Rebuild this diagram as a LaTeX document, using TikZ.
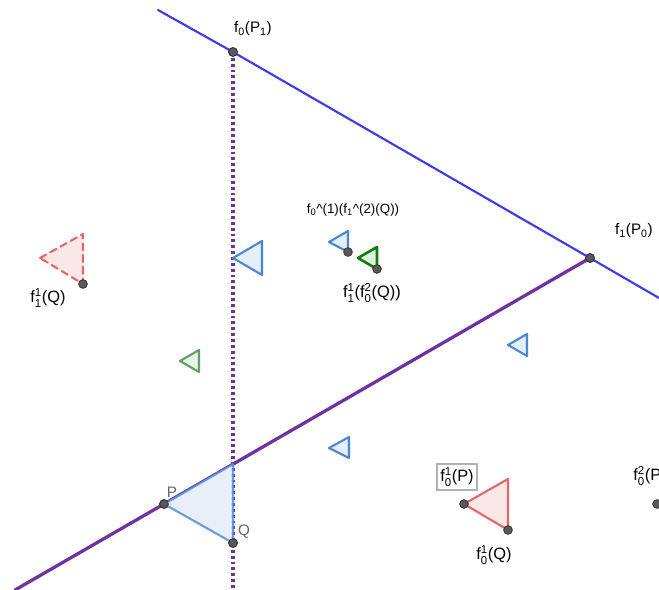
\documentclass[tikz,border=0pt]{standalone}
\usepackage{amsmath}
\usepackage{fontspec}
\setmainfont{Liberation Sans}
\usetikzlibrary{positioning}
\definecolor{lineblue}{RGB}{58,58,240}
\definecolor{linepurple}{RGB}{112,50,160}
\definecolor{triblue}{RGB}{74,134,214}
\definecolor{trired}{RGB}{226,104,104}
\definecolor{trigreen}{RGB}{96,160,100}
\definecolor{darkgreen}{RGB}{10,128,10}
\newcommand{\idx}[2]{$^{\text{#1}}_{\text{#2}}$}
\newcommand{\lo}[1]{$_{\text{#1}}$}

\begin{document}
\begin{tikzpicture}[x=0.03cm,y=-0.03cm,font=\fontsize{13}{15}\selectfont,line cap=round,
  gpoint/.style={circle,fill=black!65,draw=black!80,line width=0.7pt,inner sep=0pt,minimum size=7.4pt},
  bluetri/.style={draw=triblue,fill=triblue!14,line width=1.8pt,line join=round},
  redtri/.style={draw=trired,fill=trired!16,line width=1.8pt,line join=round},
  greentri/.style={draw=trigreen,fill=trigreen!14,line width=1.8pt,line join=round},
  lbl/.style={inner sep=1pt},
  stk/.style={inner sep=1pt,font=\fontsize{14}{16}\selectfont}]
\useasboundingbox (0,0) rectangle (659,590);
\fill[white] (0,0) rectangle (659,590);
% points
\coordinate (bl) at (158,10);
\coordinate (br) at (659,298);
\coordinate (pl) at (15,590);
\coordinate (vb) at (233,592);
\coordinate (C) at (233,464);
\node[gpoint] (f0P1) at (233,52) {};
\node[gpoint] (f1P0) at (590,258) {};
\node[gpoint] (P) at (164,504) {};
\node[gpoint] (Q) at (233,543) {};
\begin{scope}
\clip (0,0) rectangle (659,590);
\draw[lineblue,line width=1.8pt] (bl) -- (f0P1.center) -- (f1P0.center) -- (br);
\draw[linepurple,line width=2.8pt] (pl) -- (P.center) -- (f1P0.center);
\draw[linepurple,line width=2.6pt,line cap=butt,dash pattern=on 2.4pt off 2.6pt] (f0P1.center) -- (vb);
% triangles
\draw[bluetri,draw opacity=0.8,fill opacity=0.9] (P.center) -- (C) -- (Q.center) -- cycle;
\draw[redtri,dash pattern=on 6pt off 4pt] (40,258) -- (83,234) -- (83,284) -- cycle;
\draw[redtri] (464,504) -- (508,479) -- (508,530) -- cycle;
\draw[bluetri] (233,258) -- (262,241) -- (262,275) -- cycle;
\draw[greentri] (180,361) -- (199,350) -- (199,372) -- cycle;
\draw[bluetri] (329,242) -- (348,231) -- (348,252) -- cycle;
\draw[darkgreen,fill=darkgreen!12,line width=2.2pt,line join=round] (358,258) -- (377,247) -- (377,269) -- cycle;
\draw[bluetri] (508,345) -- (527,334) -- (527,356) -- cycle;
\draw[bluetri] (329,448) -- (349,437) -- (349,458) -- cycle;
\end{scope}
\node[gpoint] at (f0P1) {};
\node[gpoint] at (f1P0) {};
\node[gpoint] at (P) {};
\node[gpoint] at (Q) {};
\node[gpoint] (f1Q) at (83,284) {};
\node[gpoint] (f0f1Q) at (348,252) {};
\node[gpoint] (f1f0Q) at (377,269) {};
\node[gpoint] (f0P) at (464,504) {};
\node[gpoint] (f0Q) at (508,530) {};
\node[gpoint] (f0sqP) at (657,504) {};
% labels
\node[lbl] (lf0P1) at (253,29) {f\lo{0}(P\lo{1})};
\node[lbl] (lf1P0) at (634,231) {f\lo{1}(P\lo{0})};
\node[lbl,font=\fontsize{11.4}{13}\selectfont] (lf0f1Q) at (353,210) {f\lo{0}\^{}(1)(f\lo{1}\^{}(2)(Q))};
\node[stk] (lf1f0Q) at (372,293) {f\idx{1}{1}(f\idx{2}{0}(Q))};
\node[stk] (lf1Q) at (48,298) {f\idx{1}{1}(Q)};
\node[lbl,text=black!60] (lP) at (172,492) {P};
\node[lbl,text=black!60] (lQ) at (244,532) {Q};
\node[stk,draw=black!30,line width=1.3pt,inner xsep=3pt,inner ysep=3pt,fill=white] (lf0P) at (457,477) {f\idx{1}{0}(P)};
\node[stk] (lf0Q) at (494,555) {f\idx{1}{0}(Q)};
\node[stk,anchor=west] (lf0sqP) at (632,476) {f\idx{2}{0}(P)};
\end{tikzpicture}
\end{document}
